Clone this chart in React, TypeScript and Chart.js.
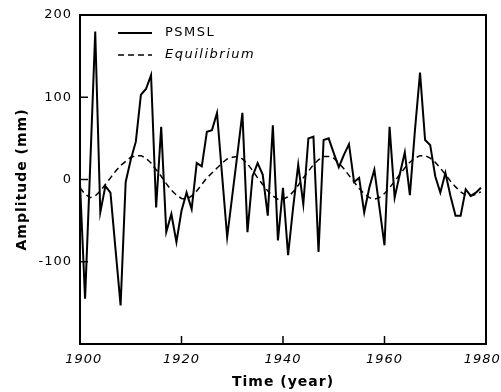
import React, { useEffect, useRef } from "react";
import { Chart, registerables } from "chart.js";

Chart.register(...registerables);

const years = [
  1900, 1901, 1902, 1903, 1904, 1905, 1906, 1907, 1908, 1909,
  1910, 1911, 1912, 1913, 1914, 1915, 1916, 1917, 1918, 1919,
  1920, 1921, 1922, 1923, 1924, 1925, 1926, 1927, 1928, 1929,
  1930, 1931, 1932, 1933, 1934, 1935, 1936, 1937, 1938, 1939,
  1940, 1941, 1942, 1943, 1944, 1945, 1946, 1947, 1948, 1949,
  1950, 1951, 1952, 1953, 1954, 1955, 1956, 1957, 1958, 1959,
  1960, 1961, 1962, 1963, 1964, 1965, 1966, 1967, 1968, 1969,
  1970, 1971, 1972, 1973, 1974, 1975, 1976, 1977, 1978, 1979,
];

const psmsl = [
  -5, -145, 15, 180, -40, -8, -16, -85, -153, -3,
  24, 46, 103, 110, 127, -34, 64, -64, -42, -76,
  -38, -16, -36, 20, 16, 58, 60, 81, 5, -70,
  -20, 30, 81, -64, 4, 20, 6, -44, 66, -74,
  -10, -92, -34, 18, -30, 50, 52, -88, 48, 50,
  32, 15, 30, 43, -3, 2, -40, -10, 12, -34,
  -80, 64, -22, 6, 33, -19, 60, 130, 48, 42,
  4, -16, 8, -20, -44, -44, -12, -20, -16, -10,
];

const equilibrium = [
  -10, -18, -22, -20, -14, -6, 2, 10, 17, 22,
  27, 29, 29, 26, 20, 12, 4, -5, -13, -19,
  -23, -24, -20, -14, -6, 2, 8, 14, 20, 25,
  27, 28, 25, 19, 11, 2, -6, -14, -20, -24,
  -24, -21, -15, -7, 2, 10, 18, 24, 28, 28,
  26, 20, 13, 5, -3, -11, -17, -22, -24, -22,
  -17, -10, -2, 6, 14, 21, 26, 29, 29, 26,
  21, 14, 6, -2, -9, -15, -19, -20, -18, -15,
];

const xTickValues = [1900, 1920, 1940, 1960, 1980];
const yTickValues = [200, 100, 0, -100];
const xInnerTicks = [1920, 1940, 1960];
const yInnerTicks = [100, 0, -100];
const legendLabels = ["PSMSL", "Equilibrium"];

const decorPlugin = {
  id: "decor",
  beforeDraw(chart: any) {
    (chart.ctx as any).letterSpacing = "1px";
  },
  afterDraw(chart: any) {
    const { ctx, chartArea, scales } = chart;
    const { left, right, top, bottom } = chartArea;
    ctx.save();
    ctx.strokeStyle = "#000";
    ctx.setLineDash([]);
    ctx.lineWidth = 2;
    ctx.strokeRect(left, top, right - left, bottom - top);
    ctx.lineWidth = 1.5;
    for (const v of xInnerTicks) {
      const px = scales.x.getPixelForValue(v);
      ctx.beginPath();
      ctx.moveTo(px, bottom);
      ctx.lineTo(px, bottom - 8);
      ctx.stroke();
    }
    for (const v of yInnerTicks) {
      const py = scales.y.getPixelForValue(v);
      ctx.beginPath();
      ctx.moveTo(left, py);
      ctx.lineTo(left + 8, py);
      ctx.stroke();
    }
    // legend
    const lx0 = left + 38;
    const lx1 = left + 72;
    const tx = left + 85;
    const y1 = top + 18;
    const y2 = top + 40;
    ctx.lineWidth = 2;
    ctx.beginPath();
    ctx.moveTo(lx0, y1);
    ctx.lineTo(lx1, y1);
    ctx.stroke();
    ctx.lineWidth = 1.5;
    ctx.setLineDash([6, 4]);
    ctx.beginPath();
    ctx.moveTo(lx0, y2);
    ctx.lineTo(lx1, y2);
    ctx.stroke();
    ctx.setLineDash([]);
    (ctx as any).letterSpacing = "1.5px";
    ctx.fillStyle = "#000";
    ctx.textBaseline = "middle";
    ctx.textAlign = "left";
    ctx.font = "13px 'DejaVu Sans'";
    ctx.fillText(legendLabels[0], tx, y1);
    ctx.font = "italic 13px 'DejaVu Sans'";
    ctx.fillText(legendLabels[1], tx, y2);
    ctx.restore();
  },
};

export default function App() {
  const ref = useRef<HTMLCanvasElement | null>(null);
  useEffect(() => {
    if (!ref.current) return;
    const chart = new Chart(ref.current, {
      type: "line",
      data: {
        datasets: [
          {
            label: legendLabels[0],
            data: years.map((yr, i) => ({ x: yr, y: psmsl[i] })),
            borderColor: "#000",
            borderWidth: 2,
            pointRadius: 0,
            tension: 0,
            fill: false,
          },
          {
            label: legendLabels[1],
            data: years.map((yr, i) => ({ x: yr, y: equilibrium[i] })),
            borderColor: "#000",
            borderWidth: 1.5,
            borderDash: [6, 4],
            pointRadius: 0,
            tension: 0,
            fill: false,
          },
        ],
      },
      options: {
        responsive: false,
        animation: false,
        devicePixelRatio: 1,
        layout: { padding: { left: 0, right: 15, top: 15, bottom: 0 } },
        plugins: { legend: { display: false }, tooltip: { enabled: false } },
        scales: {
          x: {
            type: "linear",
            min: 1900,
            max: 1980,
            grid: { display: false, drawTicks: false },
            border: { display: false },
            afterBuildTicks: (s: any) => {
              s.ticks = xTickValues.map((v) => ({ value: v }));
            },
            afterFit: (s: any) => {
              s.height = 48;
              s.paddingLeft = 0;
              s.paddingRight = 0;
            },
            ticks: {
              color: "#000",
              padding: 8,
              maxRotation: 0,
              autoSkip: false,
              font: { family: "'DejaVu Sans'", size: 13, style: "italic" },
              callback: (v: any) => {
                if (v === xTickValues[0]) return "\u2002" + String(v);
                if (v === xTickValues[xTickValues.length - 1]) return String(v) + "\u2002";
                return String(v);
              },
            },
            title: {
              display: true,
              text: "Time (year)",
              color: "#000",
              padding: { top: 0, bottom: 1 },
              font: { family: "'DejaVu Sans'", size: 14, weight: "bold" },
            },
          },
          y: {
            type: "linear",
            min: -200,
            max: 200,
            grid: { display: false, drawTicks: false },
            border: { display: false },
            afterBuildTicks: (s: any) => {
              s.ticks = yTickValues.map((v) => ({ value: v }));
            },
            afterFit: (s: any) => {
              s.width = 80;
              s.paddingTop = 0;
              s.paddingBottom = 0;
            },
            ticks: {
              color: "#000",
              padding: 8,
              autoSkip: false,
              font: { family: "'DejaVu Sans'", size: 13 },
              callback: (v: any) => String(v),
            },
            title: {
              display: true,
              text: "Amplitude (mm)",
              color: "#000",
              padding: { top: 14, bottom: 0 },
              font: { family: "'DejaVu Sans'", size: 14, weight: "bold" },
            },
          },
        },
      },
      plugins: [decorPlugin],
    } as any);
    return () => chart.destroy();
  }, []);
  return (
    <div style={{ position: "fixed", left: 0, top: 0, width: 501, height: 392, background: "#fff" }}>
      <canvas ref={ref} width={501} height={392} />
    </div>
  );
}
